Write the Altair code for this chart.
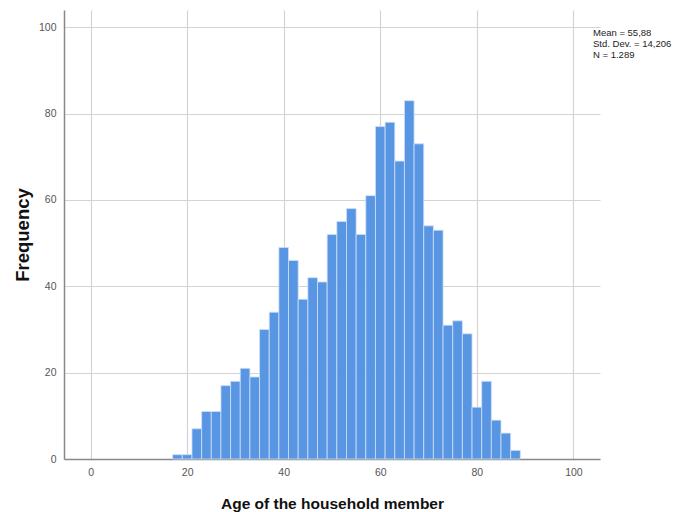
import altair as alt
import pandas as pd

bin_starts = [17, 19, 21, 23, 25, 27, 29, 31, 33, 35, 37, 39, 41, 43, 45, 47, 49, 51,
              53, 55, 57, 59, 61, 63, 65, 67, 69, 71, 73, 75, 77, 79, 81, 83, 85, 87]
counts = [1, 1, 7, 11, 11, 17, 18, 21, 19, 30, 34, 49, 46, 37, 42, 41, 52, 55,
          58, 52, 61, 77, 78, 69, 83, 73, 54, 53, 31, 32, 29, 12, 18, 9, 6, 2]
bin_width = 2
x_ticks = [0, 20, 40, 60, 80, 100]
y_ticks = [0, 20, 40, 60, 80, 100]
stats_lines = ["Mean = 55,88", "Std. Dev. = 14,206", "N = 1.289"]

df = pd.DataFrame({
    "start": bin_starts,
    "end": [s + bin_width for s in bin_starts],
    "count": counts,
})

FONT = "Liberation Sans"
W, H = 536, 449

bars = alt.Chart(df).mark_rect(
    color="#5896e3", stroke="#cfe0f7", strokeWidth=0.8
).encode(
    x=alt.X("start:Q",
            scale=alt.Scale(domain=[-5.5, 105.5], nice=False, zero=False),
            axis=alt.Axis(values=x_ticks, title="Age of the household member",
                          titlePadding=19, titleFontSize=15.5)),
    x2="end:Q",
    y=alt.Y("count:Q",
            scale=alt.Scale(domain=[0, 104], nice=False),
            axis=alt.Axis(values=y_ticks, title="Frequency", titlePadding=6,
                          titleFontSize=18.5)),
    y2=alt.datum(0),
)

stats = alt.Chart(pd.DataFrame({"t": ["\n".join(stats_lines)]})).mark_text(
    align="left", baseline="top", font=FONT, fontSize=9.5, color="#222",
    lineBreak="\n", lineHeight=11
).encode(
    text="t:N",
    x=alt.value(W - 7),
    y=alt.value(18),
)

chart = alt.layer(bars, stats).properties(
    width=W, height=H,
    autosize=alt.AutoSizeParams(type="none"),
    padding={"left": 56, "top": 2, "right": 90, "bottom": 54},
).configure_view(
    stroke=None
).configure_axis(
    labelFont=FONT, titleFont=FONT, labelFontSize=10.5, labelColor="#555",
    titleFontWeight="bold", titleColor="#111",
    gridColor="#d3d3d3", gridWidth=1.2,
    domainColor="#888", domainWidth=1.5,
    ticks=False, labelPadding=8,
)

chart.save("out.html", embed_options={"renderer": "svg", "actions": False})
